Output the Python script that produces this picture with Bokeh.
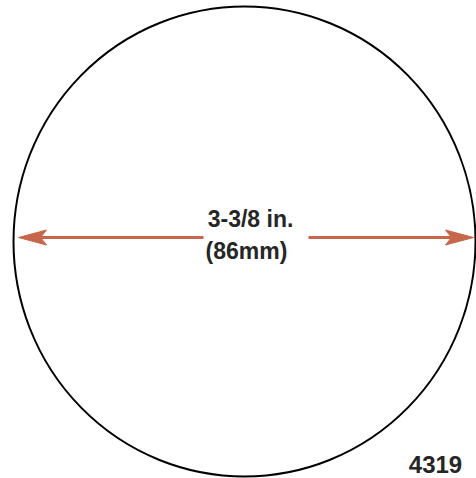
from bokeh.plotting import figure
from bokeh.models import Range1d
from bokeh.core.properties import value
from bokeh.embed import file_html
from bokeh.resources import INLINE

# Diagram content
dimension_labels = ["3-3/8 in.", "(86mm)"]
figure_number = ["4319"]

# Geometry of the drawing (in reference pixel units)
circle_cx, circle_cy = [244], [241]
circle_w, circle_h = [462], [470]
shaft_y = 237
left_tip, right_tip = 18, 473
gap_left, gap_right = 203, 308
head_len, head_half, notch = 28, 7.5, 6

ARROW = "#C8664B"
TEXT = "#262626"

p = figure(width=476, height=478, output_backend="svg", toolbar_location=None,
           x_range=Range1d(0, 476), y_range=Range1d(478, 0),
           min_border=0, background_fill_color="white", border_fill_color="white")
p.axis.visible = False
p.grid.visible = False
p.outline_line_color = None

# circle
p.ellipse(x=circle_cx, y=circle_cy, width=circle_w, height=circle_h,
          fill_color=None, line_color="black", line_width=2)

# arrow shafts
p.segment(x0=[left_tip + head_len - notch, gap_right], y0=[shaft_y, shaft_y],
          x1=[gap_left, right_tip - head_len + notch], y1=[shaft_y, shaft_y],
          line_color=ARROW, line_width=3)

# arrow heads
lx = [left_tip, left_tip + head_len, left_tip + head_len - notch, left_tip + head_len]
rx = [right_tip, right_tip - head_len, right_tip - head_len + notch, right_tip - head_len]
hy = [shaft_y, shaft_y - head_half, shaft_y, shaft_y + head_half]
p.patches(xs=[lx, rx], ys=[hy, hy], fill_color=ARROW, line_color=ARROW, line_width=1)

# labels
p.text(x=[250, 246], y=[218, 250], text=dimension_labels,
       text_font=value("Liberation Sans"), text_font_style="bold",
       text_font_size="23px", text_color=TEXT,
       text_align="center", text_baseline="middle")
p.text(x=[435], y=[464], text=figure_number,
       text_font=value("Liberation Sans"), text_font_style="bold",
       text_font_size="24px", text_color=TEXT,
       text_align="center", text_baseline="middle")

open("out.html", "w").write(file_html(p, INLINE))
